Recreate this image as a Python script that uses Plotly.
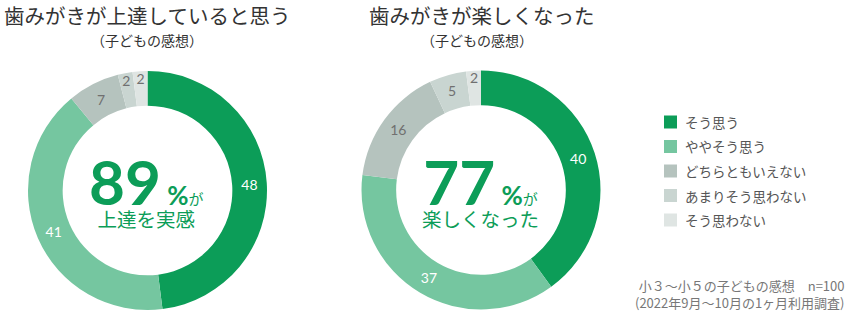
import plotly.graph_objects as go

W, H = 860, 332

# Survey answer categories and colours
categories = ["そう思う", "ややそう思う", "どちらともいえない", "あまりそう思わない", "そう思わない"]
colors = ["#0c9d58", "#75c6a0", "#b5c3be", "#c9d5d1", "#dfe5e3"]
text_colors = ["#ffffff", "#ffffff", "#707070", "#707070", "#707070"]

# Answers (percent, n=100)
improved_values = [48, 41, 7, 2, 2]
enjoyable_values = [40, 37, 16, 5, 2]

titles = ["歯みがきが上達していると思う", "歯みがきが楽しくなった"]
subtitle = "（子どもの感想）"
big_numbers = ["89", "77"]
big_captions = ["上達を実感", "楽しくなった"]
footnote_lines = ["小３～小５の子どもの感想　n=100", "(2022年9月～10月の1ヶ月利用調査)"]

GREEN = "#0c9d58"
JP = "Noto Sans CJK JP"


def px(x):
    return x / W


def py(y):
    return 1 - y / H


def domain(cx, cy, r):
    return dict(x=[px(cx - r), px(cx + r)], y=[py(cy + r), py(cy - r)])


fig = go.Figure()

centers = [(147.5, 190.5), (481, 190)]
radius = 119.5
for values, (cx, cy) in zip([improved_values, enjoyable_values], centers):
    fig.add_trace(go.Pie(
        labels=categories,
        values=values,
        sort=False,
        direction="clockwise",
        rotation=0,
        hole=0.71,
        domain=domain(cx, cy, radius),
        marker=dict(colors=colors, line=dict(width=0)),
        textinfo="value",
        textposition="inside",
        insidetextorientation="horizontal",
        insidetextfont=dict(family="Lato", size=14, color=text_colors),
        showlegend=False,
        hoverinfo="label+value",
    ))

annotations = []

# Chart titles
for title, cx in zip(titles, [147, 482]):
    annotations.append(dict(x=px(cx), y=py(15), text=title, showarrow=False,
                            xanchor="center", yanchor="middle",
                            font=dict(family=JP, size=20.5, color="#333333")))
for cx in [147, 477]:
    annotations.append(dict(x=px(cx), y=py(40), text=subtitle, showarrow=False,
                            xanchor="center", yanchor="middle",
                            font=dict(family=JP, size=14, color="#333333")))

# Headline figure and caption inside each ring (one text block per ring)
for num, cap, (cx, cy) in zip(big_numbers, big_captions, centers):
    block = (
        f"<span style='font-family:Lato;font-size:62px;font-weight:bold'>{num}</span>"
        f"<span style='font-family:Lato;font-size:26px;font-weight:bold'> %</span>"
        f"<span style='font-size:15px'>が</span>"
        f"<br><span style='font-size:19.5px'>{cap}</span>"
    )
    annotations.append(dict(x=px(cx - 1), y=py(188), text=block, showarrow=False,
                            xanchor="center", yanchor="middle", align="center",
                            font=dict(family=JP, size=17, color=GREEN)))

# Legend drawn as swatches plus labels
shapes = []
legend_x0 = 664
legend_y0 = 122
legend_step = 24.5
for i, (cat, col) in enumerate(zip(categories, colors)):
    yc = legend_y0 + i * legend_step
    shapes.append(dict(type="rect", xref="paper", yref="paper",
                       x0=px(legend_x0), x1=px(legend_x0 + 13),
                       y0=py(yc + 6.5), y1=py(yc - 6.5),
                       fillcolor=col, line=dict(width=0)))
    annotations.append(dict(x=px(legend_x0 + 19), y=py(yc), text=cat, showarrow=False,
                            xanchor="left", yanchor="middle",
                            font=dict(family=JP, size=13.5, color="#555555")))

# Footnote
annotations.append(dict(x=px(847), y=py(293.5), text="<br>".join(footnote_lines), showarrow=False,
                        xanchor="right", yanchor="middle", align="right",
                        font=dict(family=JP, size=13, color="#777777")))

for a in annotations:
    a.setdefault("xref", "paper")
    a.setdefault("yref", "paper")

fig.update_layout(
    width=W, height=H,
    margin=dict(l=0, r=0, t=0, b=0),
    paper_bgcolor="white",
    plot_bgcolor="white",
    annotations=annotations,
    shapes=shapes,
    uniformtext=dict(minsize=14, mode="show"),
)

fig.write_html("out.html")
